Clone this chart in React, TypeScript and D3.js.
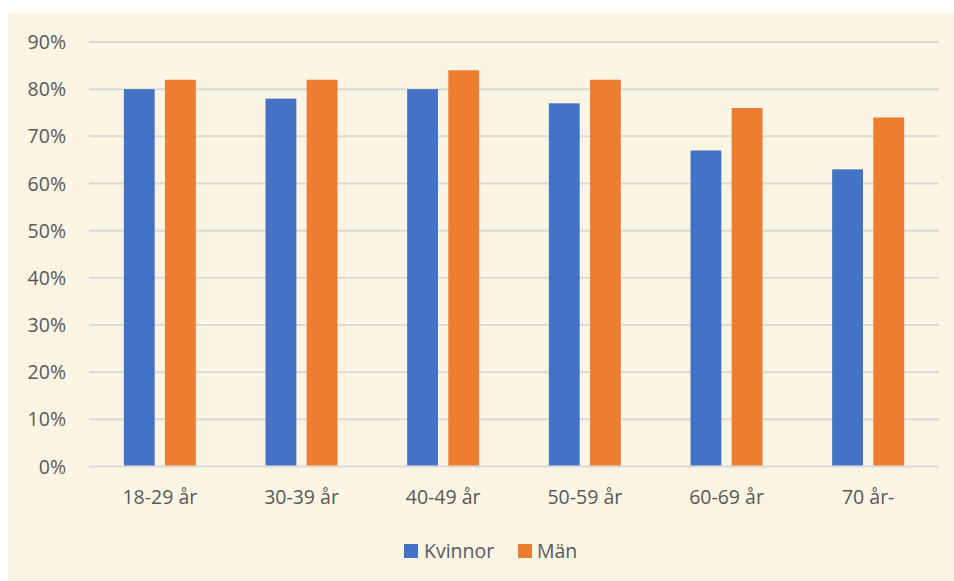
import * as d3 from "d3";

const WIDTH = 954;
const HEIGHT = 581;
const PLOT = { left: 89, right: 939, top: 42, bottom: 466.5 };

const categories = ["18-29 år", "30-39 år", "40-49 år", "50-59 år", "60-69 år", "70 år-"];
const kvinnor = [80, 78, 80, 77, 67, 63];
const man = [82, 82, 84, 82, 76, 74];
const yTicks = [0, 10, 20, 30, 40, 50, 60, 70, 80, 90];

const SERIES = [
  { key: "Kvinnor", values: kvinnor, color: "#4472c4" },
  { key: "Män", values: man, color: "#ed7d31" },
];

const FONT = "'Open Sans', 'Noto Sans', sans-serif";
const FONT_SIZE = 19.5;
const TEXT_COLOR = "#595959";

export default function App() {
  const x = d3.scaleBand().domain(categories).range([PLOT.left, PLOT.right]);
  const y = d3.scaleLinear().domain([0, 90]).range([PLOT.bottom, PLOT.top]);
  const inner = d3
    .scaleBand()
    .domain(SERIES.map((s) => s.key))
    .range([0, 72])
    .paddingInner(0.25);
  const groupOffset = (x.bandwidth() - 72) / 2;

  return (
    <div style={{ position: "fixed", left: 0, top: 0, background: "#fff" }}>
      <svg width={WIDTH} height={HEIGHT} style={{ display: "block" }}>
        <rect x={8} y={13} width={WIDTH - 8} height={HEIGHT - 13} fill="#fdf5e4" />

        {yTicks.map((t) => (
          <g key={`y-${t}`}>
            <line
              x1={PLOT.left}
              x2={PLOT.right}
              y1={y(t)}
              y2={y(t)}
              stroke="#d9d9d9"
              strokeWidth={2}
            />
            <text
              x={66}
              y={y(t)}
              dy="0.36em"
              textAnchor="end"
              fontFamily={FONT}
              fontSize={FONT_SIZE}
              fill={TEXT_COLOR}
            >
              {t}%
            </text>
          </g>
        ))}

        {SERIES.map((s) =>
          s.values.map((v, i) => (
            <rect
              key={`${s.key}-${i}`}
              x={(x(categories[i]) ?? 0) + groupOffset + (inner(s.key) ?? 0)}
              y={y(v)}
              width={inner.bandwidth()}
              height={y(0) - y(v) - 1}
              fill={s.color}
            />
          )),
        )}

        {categories.map((c) => (
          <text
            key={`x-${c}`}
            x={(x(c) ?? 0) + x.bandwidth() / 2}
            y={497}
            dy="0.36em"
            textAnchor="middle"
            fontFamily={FONT}
            fontSize={FONT_SIZE}
            fill={TEXT_COLOR}
          >
            {c}
          </text>
        ))}

        <g>
          <rect x={404} y={544} width={14} height={14} fill={SERIES[0].color} />
          <text x={424} y={551} dy="0.36em" fontFamily={FONT} fontSize={FONT_SIZE} fill={TEXT_COLOR}>
            Kvinnor
          </text>
          <rect x={518} y={544} width={14} height={14} fill={SERIES[1].color} />
          <text x={537} y={551} dy="0.36em" fontFamily={FONT} fontSize={FONT_SIZE} fill={TEXT_COLOR}>
            Män
          </text>
        </g>
      </svg>
    </div>
  );
}
